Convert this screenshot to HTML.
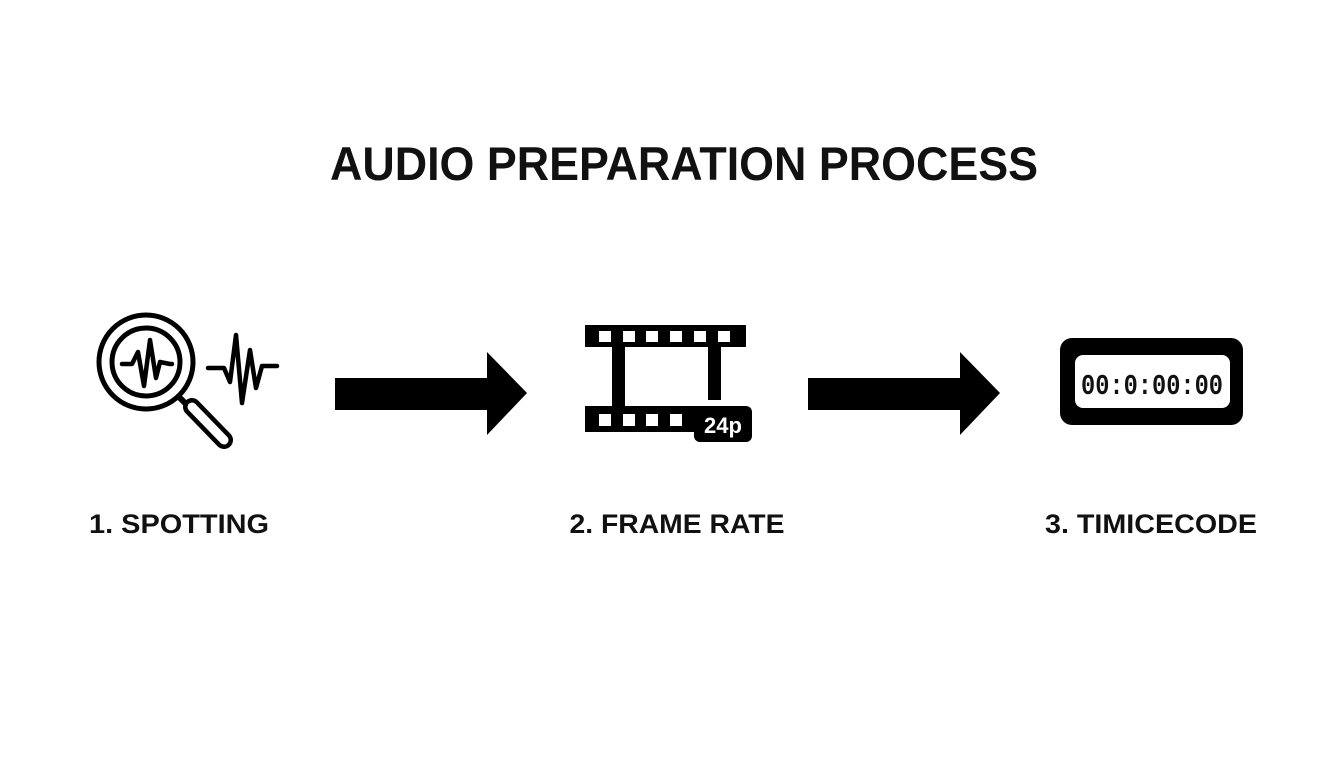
<!DOCTYPE html>
<html><head><style>
html,body{margin:0;padding:0;background:#fff;}
svg{display:block;}
text{font-family:"Liberation Sans",sans-serif;font-weight:bold;fill:#111;}
</style></head><body>
<svg width="1344" height="768" viewBox="0 0 1344 768">
<rect width="1344" height="768" fill="#fff"/>
<text x="330" y="180" font-size="47" textLength="708" lengthAdjust="spacingAndGlyphs">AUDIO PREPARATION PROCESS</text>

<!-- magnifier -->
<g fill="none" stroke="#000" stroke-linecap="round" stroke-linejoin="round">
<circle cx="146" cy="362" r="47" stroke-width="5"/>
<circle cx="146" cy="362" r="34" stroke-width="5"/>
<path d="M122 364 H132 L138 352 L144 386 L150 340 L156 378 L160 362 L170 364 H172" stroke-width="4.5"/>
<path d="M180 398 L190 408" stroke-width="6"/>
<path d="M192 407 L224 440" stroke-width="18"/>
<path d="M192 407 L224 440" stroke-width="9" stroke="#fff"/>
<path d="M208 368 H224 L230 382 L236 335 L242 403 L250 350 L256 388 L262 366 H277" stroke-width="4.5"/>
</g>

<!-- arrows -->
<polygon points="335,378 487,378 487,352 527,393 487,435 487,410 335,410" fill="#000"/>
<polygon points="808,378 960,378 960,352 1000,393 960,435 960,410 808,410" fill="#000"/>

<!-- film strip -->
<g fill="#000">
<rect x="585" y="325" width="161" height="22"/>
<rect x="612" y="345" width="13" height="62"/>
<rect x="708" y="345" width="13" height="55"/>
<rect x="585" y="406" width="115" height="26"/>
<rect x="694" y="406" width="58" height="36" rx="6"/>
</g>
<g fill="#fff">
<rect x="599" y="331" width="12" height="11"/><rect x="623" y="331" width="12" height="11"/><rect x="646" y="331" width="12" height="11"/><rect x="670" y="331" width="12" height="11"/><rect x="694" y="331" width="12" height="11"/><rect x="718" y="331" width="12" height="11"/>
<rect x="599" y="414" width="12" height="12"/><rect x="623" y="414" width="12" height="12"/><rect x="646" y="414" width="12" height="12"/><rect x="670" y="414" width="12" height="12"/>
</g>
<text x="723" y="433" font-size="22" text-anchor="middle" style="fill:#fff">24p</text>

<!-- timecode -->
<rect x="1060" y="338" width="183" height="87" rx="12" fill="#000"/>
<rect x="1075" y="355" width="155" height="53" rx="8" fill="#fff"/>
<text x="1152" y="394" font-size="29" text-anchor="middle" textLength="142" lengthAdjust="spacingAndGlyphs" style="font-family:'Liberation Mono',monospace">00:0:00:00</text>

<text x="179" y="533" font-size="27" text-anchor="middle" textLength="180" lengthAdjust="spacingAndGlyphs">1. SPOTTING</text>
<text x="677" y="533" font-size="27" text-anchor="middle" textLength="215" lengthAdjust="spacingAndGlyphs">2. FRAME RATE</text>
<text x="1151" y="533" font-size="27" text-anchor="middle" textLength="212" lengthAdjust="spacingAndGlyphs">3. TIMICECODE</text>
</svg>
</body></html>
